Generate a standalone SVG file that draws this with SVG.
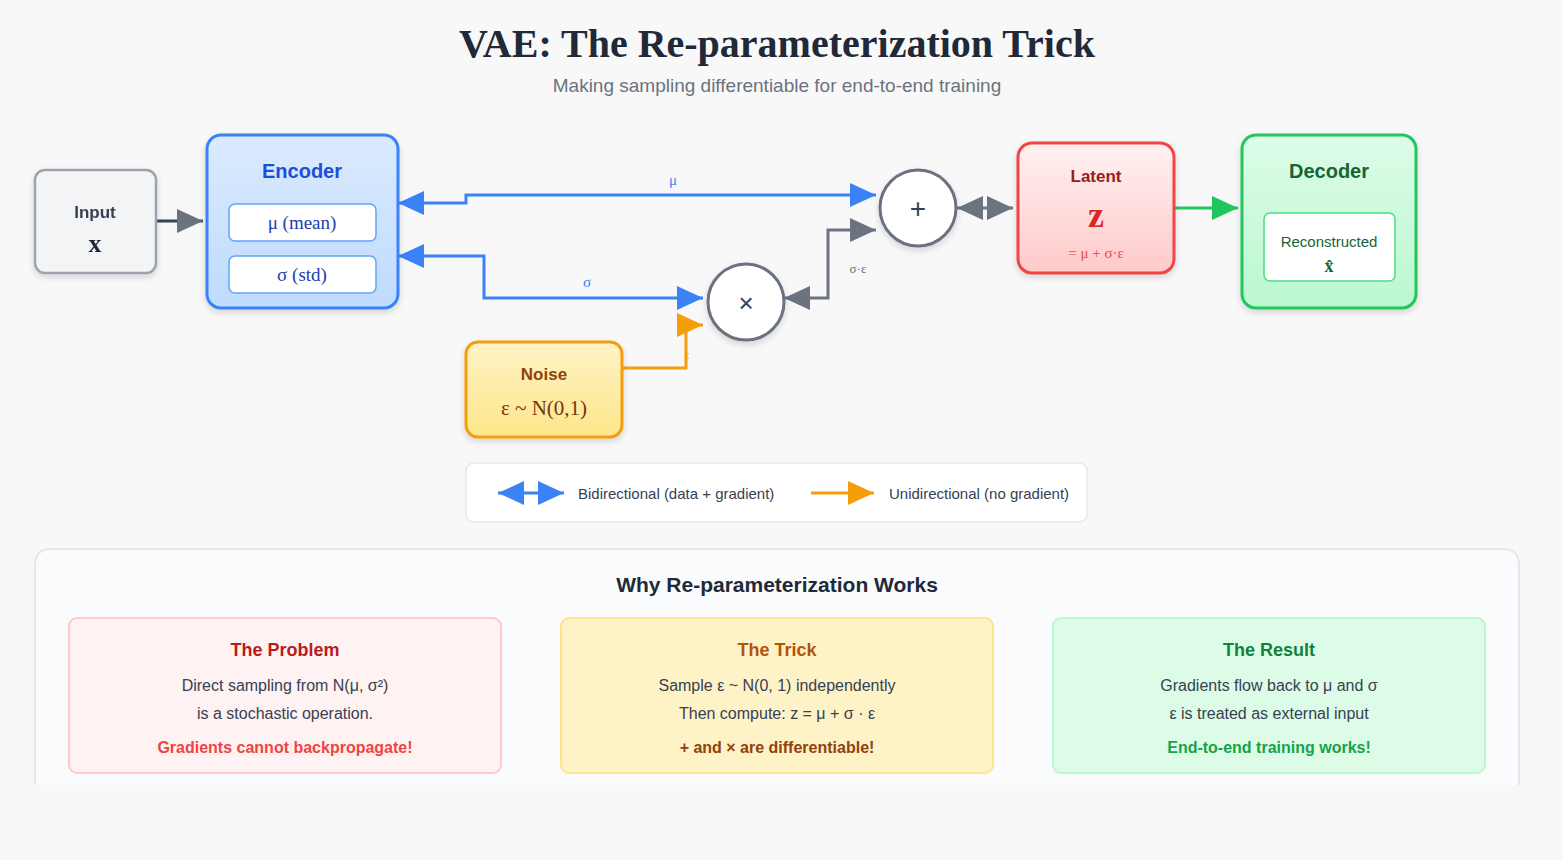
<svg xmlns="http://www.w3.org/2000/svg" width="1562" height="860" viewBox="0 0 1562 860">
<style>
.sans{font-family:"Liberation Sans",Arial,sans-serif}
.serif{font-family:"Liberation Serif","Times New Roman",serif}
.b{font-weight:bold}
.c{text-anchor:middle}
.op{fill:#fff;stroke:#6b7280;stroke-width:3}
.conn{fill:none;stroke-width:3}
</style>
<defs>
<linearGradient id="gB" x1="0" y1="0" x2="0" y2="1"><stop offset="0" stop-color="#dbeafe"/><stop offset="1" stop-color="#bfdbfe"/></linearGradient>
<linearGradient id="gR" x1="0" y1="0" x2="0" y2="1"><stop offset="0" stop-color="#fff1f1"/><stop offset="1" stop-color="#fecaca"/></linearGradient>
<linearGradient id="gG" x1="0" y1="0" x2="0" y2="1"><stop offset="0" stop-color="#dcfce7"/><stop offset="1" stop-color="#bbf7d0"/></linearGradient>
<linearGradient id="gY" x1="0" y1="0" x2="0" y2="1"><stop offset="0" stop-color="#fef3c7"/><stop offset="1" stop-color="#fde68a"/></linearGradient>
<filter id="sh" x="-20%" y="-20%" width="140%" height="150%"><feDropShadow dx="0" dy="3" stdDeviation="3" flood-color="#000" flood-opacity="0.15"/></filter>
<marker id="aB" markerUnits="userSpaceOnUse" markerWidth="26" markerHeight="24" refX="26" refY="12" orient="auto-start-reverse"><path d="M0,0 L26,12 L0,24 Z" fill="#3b82f6"/></marker>
<marker id="aGy" markerUnits="userSpaceOnUse" markerWidth="26" markerHeight="24" refX="26" refY="12" orient="auto-start-reverse"><path d="M0,0 L26,12 L0,24 Z" fill="#6b7280"/></marker>
<marker id="aG" markerUnits="userSpaceOnUse" markerWidth="26" markerHeight="24" refX="26" refY="12" orient="auto"><path d="M0,0 L26,12 L0,24 Z" fill="#22c55e"/></marker>
<marker id="aO" markerUnits="userSpaceOnUse" markerWidth="26" markerHeight="24" refX="26" refY="12" orient="auto"><path d="M0,0 L26,12 L0,24 Z" fill="#f59e0b"/></marker>
</defs>
<rect width="1562" height="860" fill="#f8f8f8"/>
<text x="777" y="57" class="serif b c" font-size="40" fill="#1f2937">VAE: The Re-parameterization Trick</text>
<text x="777" y="92" class="sans c" font-size="19" fill="#6b7280">Making sampling differentiable for end-to-end training</text>

<g id="connectors">
<path class="conn" d="M156,221 H203" stroke="#374151" marker-end="url(#aGy)"/>
<path class="conn" d="M398,203 H466 V195 H876" stroke="#3b82f6" marker-start="url(#aB)" marker-end="url(#aB)"/>
<text x="673" y="185" class="serif c" font-size="15" fill="#3b82f6">μ</text>
<path class="conn" d="M398,256 H484 V298 H703" stroke="#3b82f6" marker-start="url(#aB)" marker-end="url(#aB)"/>
<text x="587" y="287" class="serif c" font-size="15" fill="#3b82f6">σ</text>
<path class="conn" d="M784,298 H828 V230 H876" stroke="#6b7280" marker-start="url(#aGy)" marker-end="url(#aGy)"/>
<text x="858" y="273" class="serif c" font-size="13" fill="#6b7280">σ·ε</text>
<path class="conn" d="M957,208 H1013" stroke="#6b7280" marker-start="url(#aGy)" marker-end="url(#aGy)"/>
<path class="conn" d="M1174,208 H1238" stroke="#22c55e" marker-end="url(#aG)"/>
<path class="conn" d="M622,368 H686 V325 H703" stroke="#f59e0b" marker-end="url(#aO)"/>
<text x="687" y="359" class="serif c" font-size="13" fill="#f59e0b">ε</text>
</g>

<g id="input" filter="url(#sh)">
<rect x="35" y="170" width="121" height="103" rx="10" fill="#f3f4f6" stroke="#9ca3af" stroke-width="2.5"/>
<text x="95" y="218" class="sans b c" font-size="17" fill="#374151">Input</text>
<text x="95" y="252" class="serif b c" font-size="26" fill="#1f2937">x</text>
</g>

<g id="encoder">
<rect x="207" y="135" width="191" height="173" rx="14" fill="url(#gB)" stroke="#3b82f6" stroke-width="3" filter="url(#sh)"/>
<text x="302" y="178" class="sans b c" font-size="20" fill="#1d4ed8">Encoder</text>
<rect x="229" y="204" width="147" height="37" rx="6" fill="#fff" stroke="#60a5fa" stroke-width="1.5"/>
<text x="302" y="229" class="serif c" font-size="19" fill="#1e40af">μ (mean)</text>
<rect x="229" y="256" width="147" height="37" rx="6" fill="#fff" stroke="#60a5fa" stroke-width="1.5"/>
<text x="302" y="281" class="serif c" font-size="19" fill="#1e40af">σ (std)</text>
</g>

<g id="multiply">
<circle cx="746" cy="302" r="38" class="op" filter="url(#sh)"/>
<text x="746" y="312" class="sans c" font-size="26" fill="#374151">×</text>
</g>
<g id="add">
<circle cx="918" cy="208" r="38" class="op" filter="url(#sh)"/>
<text x="918" y="218" class="sans c" font-size="28" fill="#374151">+</text>
</g>

<g id="noise">
<rect x="466" y="342" width="156" height="95" rx="12" fill="url(#gY)" stroke="#f59e0b" stroke-width="3" filter="url(#sh)"/>
<text x="544" y="380" class="sans b c" font-size="17" fill="#92400e">Noise</text>
<text x="544" y="415" class="serif c" font-size="21" fill="#78350f">ε ~ N(0,1)</text>
</g>

<g id="latent">
<rect x="1018" y="143" width="156" height="130" rx="14" fill="url(#gR)" stroke="#ef4444" stroke-width="3" filter="url(#sh)"/>
<text x="1096" y="182" class="sans b c" font-size="17" fill="#991b1b">Latent</text>
<text x="1096" y="227" class="serif b c" font-size="36" fill="#dc2626">z</text>
<text x="1096" y="258" class="serif c" font-size="15" fill="#ef4444">= μ + σ·ε</text>
</g>

<g id="decoder">
<rect x="1242" y="135" width="174" height="173" rx="14" fill="url(#gG)" stroke="#22c55e" stroke-width="3" filter="url(#sh)"/>
<text x="1329" y="178" class="sans b c" font-size="20" fill="#166534">Decoder</text>
<rect x="1264" y="213" width="131" height="68" rx="6" fill="#fff" stroke="#4ade80" stroke-width="1.5"/>
<text x="1329" y="247" class="sans c" font-size="15" fill="#166534">Reconstructed</text>
<text x="1329" y="272" class="serif b c" font-size="18" fill="#166534">x̂</text>
</g>

<g id="legend">
<rect x="466" y="463" width="621" height="59" rx="8" fill="#fff" stroke="#e5e7eb" stroke-width="1.5"/>
<path class="conn" d="M498,493 H564" stroke="#3b82f6" marker-start="url(#aB)" marker-end="url(#aB)"/>
<text x="578" y="499" class="sans" font-size="15" fill="#374151">Bidirectional (data + gradient)</text>
<path class="conn" d="M811,493 H874" stroke="#f59e0b" marker-end="url(#aO)"/>
<text x="889" y="499" class="sans" font-size="15" fill="#374151">Unidirectional (no gradient)</text>
</g>

<g id="panel">
<path d="M35,785 V565 Q35,549 51,549 H1503 Q1519,549 1519,565 V785" fill="#fafbfc" stroke="#e5e7eb" stroke-width="2"/>
<text x="777" y="592" class="sans b c" font-size="21" fill="#1f2937">Why Re-parameterization Works</text>
</g>

<g id="card-problem">
<rect x="69" y="618" width="432" height="155" rx="8" fill="#fef2f2" stroke="#fecaca" stroke-width="2"/>
<text x="285" y="656" class="sans b c" font-size="18" fill="#b91c1c">The Problem</text>
<text x="285" y="691" class="sans c" font-size="16" fill="#374151">Direct sampling from N(μ, σ²)</text>
<text x="285" y="719" class="sans c" font-size="16" fill="#374151">is a stochastic operation.</text>
<text x="285" y="753" class="sans b c" font-size="16" fill="#ef4444">Gradients cannot backpropagate!</text>
</g>
<g id="card-trick">
<rect x="561" y="618" width="432" height="155" rx="8" fill="#fef3c7" stroke="#fde68a" stroke-width="2"/>
<text x="777" y="656" class="sans b c" font-size="18" fill="#b45309">The Trick</text>
<text x="777" y="691" class="sans c" font-size="16" fill="#374151">Sample ε ~ N(0, 1) independently</text>
<text x="777" y="719" class="sans c" font-size="16" fill="#374151">Then compute: z = μ + σ · ε</text>
<text x="777" y="753" class="sans b c" font-size="16" fill="#92400e">+ and × are differentiable!</text>
</g>
<g id="card-result">
<rect x="1053" y="618" width="432" height="155" rx="8" fill="#dcfce7" stroke="#bbf7d0" stroke-width="2"/>
<text x="1269" y="656" class="sans b c" font-size="18" fill="#15803d">The Result</text>
<text x="1269" y="691" class="sans c" font-size="16" fill="#374151">Gradients flow back to μ and σ</text>
<text x="1269" y="719" class="sans c" font-size="16" fill="#374151">ε is treated as external input</text>
<text x="1269" y="753" class="sans b c" font-size="16" fill="#16a34a">End-to-end training works!</text>
</g>
</svg>
